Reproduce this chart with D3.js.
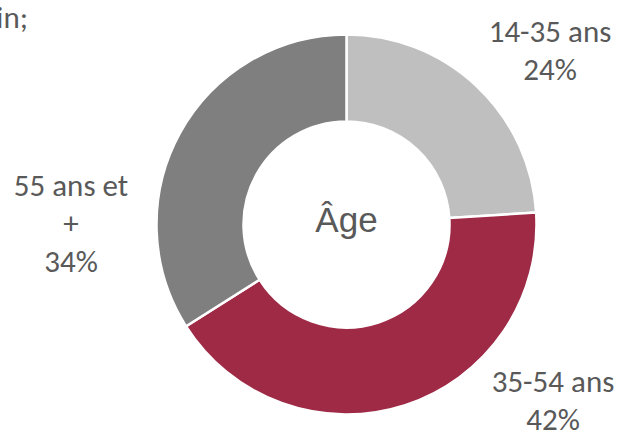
<!DOCTYPE html>
<html><head><meta charset="utf-8">
<script src="https://cdn.jsdelivr.net/npm/d3@7"></script>
<style>html,body{margin:0;padding:0;background:#fff;overflow:hidden}</style>
</head><body>
<svg id="c" width="619" height="435"></svg>
<script>
const categories = ["14-35 ans", "35-54 ans", "55 ans et +"];
const values = [24, 42, 34];
const labelLines = [["14-35 ans", "24%"], ["35-54 ans", "42%"], ["55 ans et", "+", "34%"]];
const colors = ["#BFBFBF", "#9E2A46", "#7F7F7F"];
const centerTitle = "Âge";
const clippedTitle = "in;";

const svg = d3.select("#c");
const cx = 346.5, cy = 224.5, rOuter = 190, rInner = 103;
const g = svg.append("g").attr("transform", `translate(${cx},${cy})`);
const pie = d3.pie().sort(null).value(d => d)(values);
const arc = d3.arc().innerRadius(rInner).outerRadius(rOuter);
g.selectAll("path").data(pie).join("path")
  .attr("d", arc).attr("fill", (d, i) => colors[i])
  .attr("stroke", "#fff").attr("stroke-width", 2.5).attr("stroke-linejoin", "miter");

g.append("text").text(centerTitle).attr("x", 0).attr("y", 7)
  .attr("text-anchor", "middle").attr("fill", "#595959")
  .style("font-family", "'Liberation Sans', Arial, sans-serif").style("font-size", "35px");

const font = "Carlito, Calibri, Lato, sans-serif";
const labelPos = [[550, 42], [553, 392], [71, 196]];
const lh = 38;
labelLines.forEach((lines, i) => {
  const t = svg.append("text").attr("text-anchor", "middle").attr("fill", "#595959")
    .style("font-family", font).style("font-size", "31px");
  lines.forEach((s, j) => t.append("tspan").attr("x", labelPos[i][0]).attr("y", labelPos[i][1] + j * lh).text(s));
});

svg.append("text").text(clippedTitle).attr("x", 28).attr("y", 28).attr("text-anchor", "end")
  .attr("fill", "#595959").style("font-family", font).style("font-size", "31px");
</script>
</body></html>
